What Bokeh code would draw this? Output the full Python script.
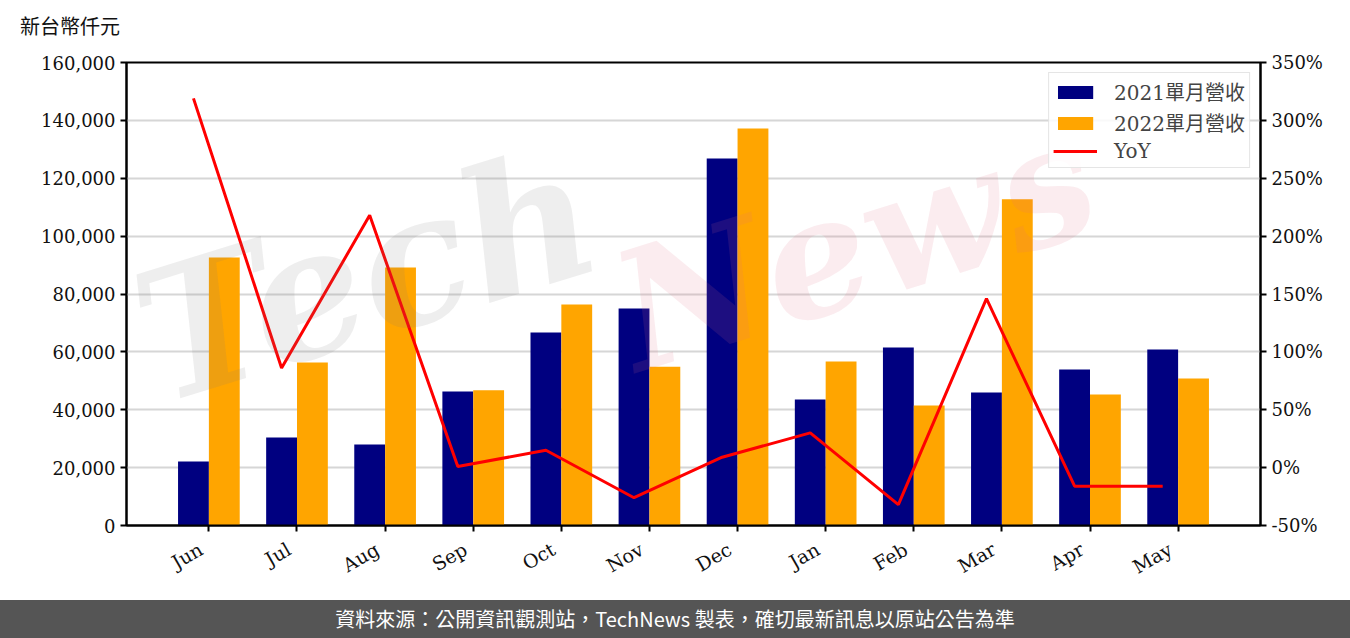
import math
from bokeh.plotting import figure
from bokeh.models import (Range1d, LinearAxis, FixedTicker, NumeralTickFormatter, Div,
                          Legend, LegendItem, ColumnDataSource, Label, CustomJSTickFormatter)
from bokeh.layouts import column
from bokeh.transform import dodge
from bokeh.embed import file_html
from bokeh.resources import INLINE

# ---- data ----
months = ["Jun", "Jul", "Aug", "Sep", "Oct", "Nov", "Dec", "Jan", "Feb", "Mar", "Apr", "May"]
rev_2021 = [22100, 30400, 28000, 46300, 66700, 75000, 126800, 43500, 61500, 46000, 53900, 60800]
rev_2022 = [92600, 56300, 89200, 46700, 76400, 54900, 137200, 56700, 41500, 112700, 45300, 50800]
yoy_pct = [319, 86, 218, 1, 15, -26, 9, 30, -32, 146, -16, -16]
left_ticks = [0, 20000, 40000, 60000, 80000, 100000, 120000, 140000, 160000]
right_ticks = [-50, 0, 50, 100, 150, 200, 250, 300, 350]
unit_label = "新台幣仟元"
legend_labels = ["2021單月營收", "2022單月營收", "YoY"]
footer_text = "資料來源：公開資訊觀測站，TechNews 製表，確切最新訊息以原站公告為準"

SERIF = "DejaVu Serif, Noto Sans CJK TC"
CJK = "Noto Sans CJK TC"
LABEL_SHIFT = 0.09  # month labels sit slightly left of their tick (right-aligned rotated text)

idx = list(range(len(months)))
src = ColumnDataSource(dict(x=idx, r21=rev_2021, r22=rev_2022, yoy=yoy_pct))

p = figure(width=1350, height=554, output_backend="svg", toolbar_location=None,
           x_range=Range1d(-0.935, 11.935), y_range=Range1d(0, 160000),
           min_border_left=126, min_border_right=90, min_border_top=16, min_border_bottom=75)
p.extra_y_ranges = {"yoy": Range1d(-50, 350)}

p.outline_line_color = "black"
p.outline_line_width = 2
p.xgrid.grid_line_color = None
p.ygrid.grid_line_color = "#d6d6d6"
p.ygrid.grid_line_width = 2
p.ygrid.ticker = FixedTicker(ticks=left_ticks)

# bars and line
b21 = p.vbar(x=dodge("x", -0.175), top="r21", width=0.35, source=src, fill_color="#000080", line_color=None)
b22 = p.vbar(x=dodge("x", 0.175), top="r22", width=0.35, source=src, fill_color="#FFA500", line_color=None)
ln = p.line(x=dodge("x", -0.175), y="yoy", source=src, line_color="#FF0000", line_width=3, y_range_name="yoy")

# watermark
p.add_layout(Label(x=-0.4, y=28000, text="Tech", angle=0.3, text_font_size="180px",
                   text_font="DejaVu Serif", text_font_style="bold italic",
                   text_color="#7f7f7f", text_alpha=0.13))
p.add_layout(Label(x=5.0, y=40000, text="News", angle=0.3, text_font_size="165px",
                   text_font="DejaVu Serif", text_font_style="bold italic",
                   text_color="#e07080", text_alpha=0.13))

# axes styling
def style_axis(ax, size="18px"):
    ax.axis_line_color = "black"
    ax.axis_line_width = 2
    ax.major_tick_line_color = "black"
    ax.major_tick_line_width = 2
    ax.major_tick_out = 6
    ax.major_tick_in = 0
    ax.minor_tick_line_color = None
    ax.major_label_text_font = SERIF
    ax.major_label_text_font_size = size
    ax.major_label_text_color = "#111111"

yl = p.yaxis[0]
yl.ticker = FixedTicker(ticks=left_ticks)
yl.formatter = NumeralTickFormatter(format="0,0")
style_axis(yl)

# main x axis: ticks only
xa = p.xaxis[0]
xa.ticker = FixedTicker(ticks=idx)
style_axis(xa, "0px")
xa.major_label_overrides = {i: "" for i in idx}
xa.major_label_standoff = 0

# label-only x axis below it
xl = LinearAxis(ticker=FixedTicker(ticks=[i - LABEL_SHIFT for i in idx]))
xl.formatter = CustomJSTickFormatter(args=dict(names=months, shift=LABEL_SHIFT),
                                     code="return names[Math.round(tick + shift)] || '';")
style_axis(xl, "19px")
xl.axis_line_color = None
xl.major_tick_line_color = None
xl.major_tick_out = 0
xl.major_label_orientation = math.pi / 6
xl.major_label_standoff = 16
p.add_layout(xl, "below")

ry = LinearAxis(y_range_name="yoy", ticker=FixedTicker(ticks=right_ticks))
ry.major_label_overrides = {t: f"{t}%" for t in right_ticks}
style_axis(ry)
p.add_layout(ry, "right")

legend = Legend(items=[LegendItem(label=legend_labels[0], renderers=[b21]),
                       LegendItem(label=legend_labels[1], renderers=[b22]),
                       LegendItem(label=legend_labels[2], renderers=[ln])],
                location="top_right")
legend.label_text_font = SERIF
legend.label_text_font_size = "20px"
legend.glyph_width = 44
legend.glyph_height = 16
legend.label_height = 22
legend.spacing = 2
legend.padding = 4
legend.margin = 10
legend.label_standoff = 17
legend.border_line_color = "#cccccc"
legend.border_line_width = 1.5
legend.background_fill_alpha = 0.85
p.add_layout(legend)

top = Div(text=(f'<div style="padding:15px 0 0 20px;font-size:20px;line-height:24px;'
                f'color:#111;font-family:{SERIF};white-space:nowrap">{unit_label}</div>'),
          width=1350, height=46, margin=0)
footer = Div(text=(f'<div style="width:1350px;height:38px;line-height:38px;background:#555555;'
                   f'color:white;font-size:20px;text-align:center;font-family:{CJK};'
                   f'white-space:nowrap">{footer_text}</div>'),
             width=1350, height=38, margin=0)

layout = column(top, p, footer, spacing=0)
open("out.html", "w").write(file_html(layout, INLINE))
